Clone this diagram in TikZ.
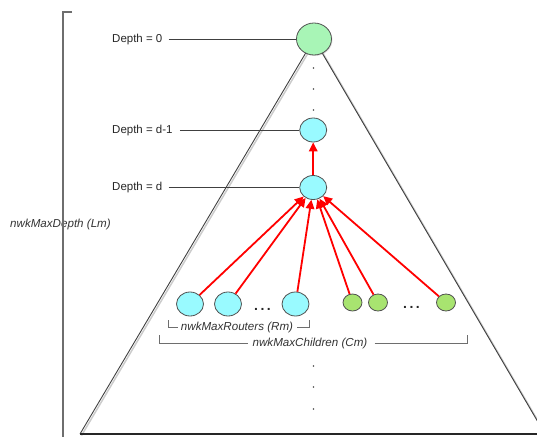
\documentclass[tikz,border=0pt]{standalone}
\usepackage{fontspec}
\setmainfont{Liberation Sans}
\usetikzlibrary{arrows.meta,shadows,shapes.geometric}
\definecolor{rootg}{RGB}{168,245,182}
\definecolor{cyanf}{RGB}{153,250,255}
\definecolor{leafg}{RGB}{168,228,112}
\definecolor{edgegray}{RGB}{80,80,80}
\definecolor{brk}{RGB}{110,110,110}
\tikzset{
  x=1pt,y=-1pt,
  nodeshape/.style={ellipse, draw=edgegray, line width=0.8pt, inner sep=0pt},
  rootnode/.style={nodeshape, fill=rootg, minimum width=35pt, minimum height=32pt,
     drop shadow={opacity=0.25, shadow xshift=1pt, shadow yshift=-1pt}},
  routernode/.style={nodeshape, fill=cyanf, minimum width=27pt, minimum height=24pt},
  leafnode/.style={nodeshape, fill=leafg, minimum width=19pt, minimum height=17pt},
  lbl/.style={font=\fontsize{11.5}{13}\selectfont, text=black!85, inner sep=0pt},
  ilbl/.style={font=\fontsize{11.6}{13}\selectfont\itshape, text=black!80, inner sep=0pt},
  conn/.style={draw=black!75, line width=0.8pt},
  bracket/.style={draw=brk, line width=0.9pt},
  redarrow/.style={draw=red, fill=red, line width=1.8pt, -{Triangle[length=9pt,width=8.5pt]}},
  vdot/.style={circle, fill=black!70, inner sep=0pt, minimum size=1.8pt},
  hdots/.style={font=\fontsize{14}{14}\selectfont\bfseries, inner sep=0pt, text=black!85},
}
\begin{document}
\begin{tikzpicture}
\useasboundingbox (0,0) rectangle (537,436);
\clip (0,0) rectangle (537,436);
% triangle
\coordinate (apex) at (314,39);
\coordinate (bl) at (80,434);
\coordinate (br) at (545,434);
\draw[black!20, line width=1.5pt] ([xshift=1.5pt,yshift=-1.5pt]apex) -- ([xshift=1.5pt,yshift=-1.5pt]bl);
\draw[black!20, line width=1.5pt] ([xshift=1.5pt,yshift=-1.5pt]apex) -- ([xshift=1.5pt,yshift=-1.5pt]br);
\draw[black!75, line width=0.9pt] (bl) -- (apex) -- (br);
\draw[black!85, line width=1.6pt] (bl) -- (br);
% left bracket
\coordinate (lbtop) at (63,12);
\coordinate (lbtick) at (72,12);
\coordinate (lbbot) at (63,440);
\node[ilbl, anchor=west] (lm) at (10,224) {nwkMaxDepth (Lm)};
\draw[brk, line width=1.5pt] (lbtick) -- (lbtop) -- (lbbot);
% nodes
\node[rootnode] (n0) at (314,39) {};
\node[routernode] (n1) at (313.2,130) {};
\node[routernode] (nd) at (313.2,187.5) {};
\node[routernode] (r1) at (190,304) {};
\node[routernode] (r2) at (228,304) {};
\node[routernode] (r3) at (295.5,304) {};
\node[leafnode] (c1) at (352.5,302.5) {};
\node[leafnode] (c2) at (378,302.5) {};
\node[leafnode] (c3) at (446,302.5) {};
% depth labels
\node[lbl, anchor=west] (l0) at (112,39.5) {Depth = 0};
\node[lbl, anchor=west] (l1) at (112,130.5) {Depth = d-1};
\node[lbl, anchor=west] (l2) at (112,188) {Depth = d};
\draw[conn] ([xshift=6pt]l0.east |- n0.west) -- (n0.west);
\draw[conn] ([xshift=7pt]l1.east |- n1.west) -- (n1.west);
\draw[conn] ([xshift=6pt]l2.east |- nd.west) -- (nd.west);
% vertical dots
\node[vdot] (d1) at (313.5,68) {};
\node[vdot] (d2) at (313.5,89) {};
\node[vdot] (d3) at (313.5,110) {};
\node[vdot] (d4) at (313.5,366) {};
\node[vdot] (d5) at (313.5,387) {};
\node[vdot] (d6) at (313.5,409) {};
% ellipses
\node[hdots] (e1) at (262.5,309) {.\hspace{2.5pt}.\hspace{2.5pt}.};
\node[hdots] (e2) at (411.5,307) {.\hspace{2.5pt}.\hspace{2.5pt}.};
% red arrows
\draw[redarrow] (nd) -- (n1);
\draw[redarrow] (r1) -- (nd);
\draw[redarrow] (r2) -- (nd);
\draw[redarrow] (r3) -- (nd);
\draw[redarrow] (c1) -- (nd);
\draw[redarrow] (c2) -- (nd);
\draw[redarrow] (c3) -- (nd);
% routers bracket
\node[ilbl] (rm) at (237,327.5) {nwkMaxRouters (Rm)};
\coordinate (rmL) at (168,320);
\coordinate (rmR) at (309,320);
\draw[bracket] (rmL) |- ([xshift=-3pt]rm.west);
\draw[bracket] ([xshift=4pt]rm.east) -| (rmR);
% children bracket
\node[ilbl] (cm) at (310,343.5) {nwkMaxChildren (Cm)};
\coordinate (cmL) at (159,335);
\coordinate (cmR) at (467,335);
\draw[bracket] (cmL) |- ([xshift=-4pt]cm.west);
\draw[bracket] ([xshift=7pt]cm.east) -| (cmR);
\end{tikzpicture}
\end{document}
